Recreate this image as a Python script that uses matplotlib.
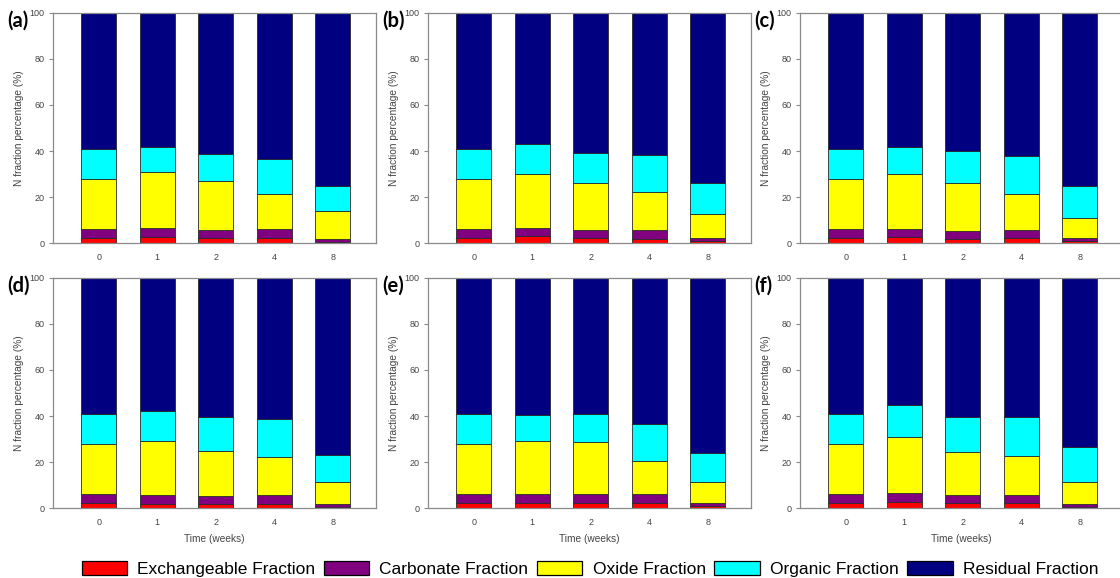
#!/usr/bin/env python3
"""Six panels (a-f) of N fraction percentage over time, stacked by fraction.

Each bar is one sampling time; the stack is exchangeable / carbonate / oxide /
organic / residual fraction (bottom -> top). Saves out.png.
"""

import matplotlib

matplotlib.use("Agg")
import matplotlib.pyplot as plt
import numpy as np
from matplotlib.patches import Patch

WEEKS = ["0", "1", "2", "4", "8"]
PANELS = ["(a)", "(b)", "(c)", "(d)", "(e)", "(f)"]

# One row per panel (a..f), one value per week (0, 1, 2, 4, 8), in %.
EXCHANGEABLE = [
    [2.5, 2.7, 2.5, 2.5, 0.7],
    [2.5, 3.0, 2.5, 2.0, 0.9],
    [2.5, 2.6, 2.0, 2.5, 0.9],
    [2.5, 2.0, 2.0, 2.0, 0.7],
    [2.5, 2.5, 2.5, 2.5, 0.9],
    [2.5, 2.7, 2.5, 2.2, 0.7],
]
CARBONATE = [
    [3.6, 4.1, 3.3, 3.6, 1.3],
    [3.6, 3.6, 3.3, 3.8, 1.4],
    [3.6, 3.8, 3.5, 3.3, 1.4],
    [3.6, 3.8, 3.5, 3.8, 1.2],
    [3.6, 3.9, 3.6, 3.6, 1.3],
    [3.6, 3.9, 3.3, 3.4, 1.2],
]
OXIDE = [
    [21.9, 24.3, 21.4, 15.1, 11.9],
    [21.9, 23.6, 20.2, 16.6, 10.4],
    [21.9, 23.5, 20.8, 15.4, 8.5],
    [21.9, 23.5, 19.4, 16.5, 9.4],
    [21.9, 22.9, 22.5, 14.3, 9.4],
    [21.9, 24.2, 18.5, 16.9, 9.7],
]
ORGANIC = [
    [12.9, 10.7, 11.7, 15.4, 10.8],
    [12.9, 12.9, 13.2, 15.9, 13.5],
    [12.9, 11.9, 13.7, 16.8, 13.9],
    [12.9, 12.9, 14.6, 16.6, 12.0],
    [12.9, 11.3, 12.3, 16.3, 12.5],
    [12.9, 13.9, 15.2, 17.0, 14.8],
]
RESIDUAL = [
    [59.1, 58.2, 61.1, 63.4, 75.3],
    [59.1, 56.9, 60.8, 61.7, 73.8],
    [59.1, 58.2, 60.0, 62.0, 75.3],
    [59.1, 57.8, 60.5, 61.1, 76.7],
    [59.1, 59.4, 59.1, 63.3, 75.9],
    [59.1, 55.3, 60.5, 60.5, 73.6],
]

FRACTIONS = [
    ("Exchangeable Fraction", EXCHANGEABLE, "#ff0000"),
    ("Carbonate Fraction", CARBONATE, "#800080"),
    ("Oxide Fraction", OXIDE, "#ffff00"),
    ("Organic Fraction", ORGANIC, "#00ffff"),
    ("Residual Fraction", RESIDUAL, "#000080"),
]

W_PX, H_PX = 1120, 578
# axes boxes in pixels: (left, top, width, height)
COL_LEFT = [53, 428, 800]
ROW_TOP = [12.7, 277.7]
AX_W, AX_H = 323, 230.6
AXIS_GREY = "#8a8a8a"
TEXT_GREY = "#444444"


def draw_panel(ax, idx, show_xlabel):
    x = np.arange(len(WEEKS))
    bottom = np.zeros(len(WEEKS))
    for _, values, color in FRACTIONS:
        vals = np.array(values[idx])
        ax.bar(x, vals, width=0.6, bottom=bottom, color=color,
               edgecolor="#2a2a2a", linewidth=0.6)
        bottom += vals

    ax.set_xlim(-0.78, 4.74)
    ax.set_ylim(0, 100)
    ax.set_xticks(x)
    ax.set_xticklabels(WEEKS)
    ax.set_yticks(np.arange(0, 101, 20))
    ax.tick_params(axis="x", length=0, pad=7, labelsize=6.5, labelcolor=TEXT_GREY)
    ax.tick_params(axis="y", length=3, width=0.8, color=AXIS_GREY, pad=3,
                   labelsize=6.5, labelcolor=TEXT_GREY)
    for s in ax.spines.values():
        s.set_color(AXIS_GREY)
        s.set_linewidth(0.9)
    ax.set_ylabel("N fraction percentage (%)", fontsize=7.3, color=TEXT_GREY, labelpad=4)
    if show_xlabel:
        ax.set_xlabel("Time (weeks)", fontsize=7.3, color=TEXT_GREY, labelpad=5)


def main():
    plt.rcParams["font.family"] = ["Liberation Sans", "DejaVu Sans"]
    fig = plt.figure(figsize=(W_PX / 100, H_PX / 100), dpi=100)

    for idx, label in enumerate(PANELS):
        row, col = divmod(idx, 3)
        left, top = COL_LEFT[col], ROW_TOP[row]
        ax = fig.add_axes([left / W_PX, 1 - (top + AX_H) / H_PX, AX_W / W_PX, AX_H / H_PX])
        draw_panel(ax, idx, show_xlabel=(row == 1))
        # panel letter sits just left of the 100 tick
        fig.text((left - 46) / W_PX, 1 - (top + 8) / H_PX, label,
                 fontsize=14.5, fontweight="bold", family=["Lato", "DejaVu Sans"],
                 ha="left", va="center")

    handles = [Patch(facecolor=c, edgecolor="black", linewidth=0.9, label=n)
               for n, _, c in FRACTIONS]
    fig.legend(handles=handles, loc="lower center", bbox_to_anchor=(590 / W_PX, 0.0),
               ncol=5, frameon=False, fontsize=12.5, handlelength=2.6,
               handleheight=0.9, handletextpad=0.6, columnspacing=0.5,
               borderaxespad=0.05, borderpad=0.0)

    fig.savefig("out.png", dpi=100)
    plt.close(fig)


if __name__ == "__main__":
    main()
